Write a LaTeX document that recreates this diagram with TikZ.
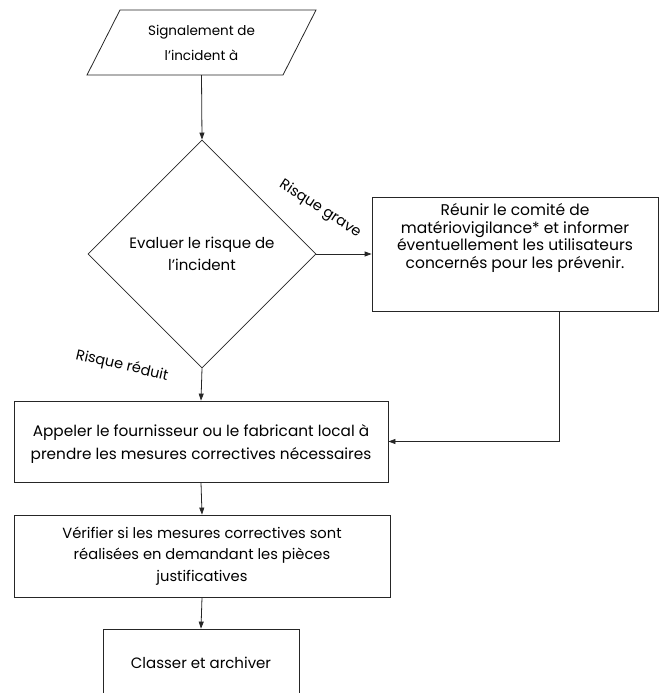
\documentclass[tikz,border=0pt]{standalone}
\usepackage{fontspec}
\setmainfont{Poppins}
\usetikzlibrary{shapes.geometric,arrows.meta,calc}
\tikzset{
  line/.style={draw=black!85, line width=0.8pt},
  arr/.style={line, -{Triangle[length=7pt,width=5pt]}},
  boxnode/.style={line, rectangle, inner sep=0pt, align=center},
  txt/.style={inner sep=0pt, align=center},
  lbl/.style={inner sep=0pt, font=\fontsize{14.5}{17}\selectfont}
}
\begin{document}
\begin{tikzpicture}[x=1pt,y=-1pt]
\useasboundingbox (0,0) rectangle (665,693);
\clip (0,0) rectangle (665,693);
% input parallelogram
\draw[line] (87,75) -- (120,10) -- (316,10) -- (283,75) -- cycle;
\node[txt, minimum width=196pt, minimum height=65pt,
      font=\fontsize{13.5}{25}\selectfont] (sig) at (201.5,42.5) {Signalement de\\l’incident à};
% decision
\node[line, diamond, aspect=1, minimum size=228pt, inner sep=0pt, align=center,
      font=\fontsize{15}{22}\selectfont] (dia) at (202,254) {Evaluer le risque de\\l’incident};
% right box
\node[boxnode, minimum width=286pt, minimum height=114pt] (rbox) at (515,254) {};
\node[txt, font=\fontsize{15.5}{17.5}\selectfont] (rtext) at (515,238)
  {Réunir le comité de\\matériovigilance* et informer\\éventuellement les utilisateurs\\concernés pour les prévenir.};
% box 1
\node[boxnode, minimum width=374pt, minimum height=81pt] (box1) at (201,441.5) {};
\node[txt, font=\fontsize{15.3}{23}\selectfont] (t1) at (201,444)
  {Appeler le fournisseur ou le fabricant local à\\prendre les mesures correctives nécessaires};
% box 2
\node[boxnode, minimum width=376pt, minimum height=82pt,
      font=\fontsize{14.7}{21.5}\selectfont] (box2) at (202,556)
  {Vérifier si les mesures correctives sont\\réalisées en demandant les pièces\\justificatives};
% box 3 (cut by the page edge)
\node[boxnode, minimum width=196pt, minimum height=68pt,
      font=\fontsize{15}{16}\selectfont] (box3) at (201,663) {Classer et archiver};
% labels
\node[lbl, rotate=-33] (lgrave) at (320,209) {Risque grave};
\node[lbl, rotate=-13] (lreduit) at (122,366) {Risque réduit};
% connectors
\draw[arr] (sig.south) -- (dia.north);
\draw[arr] (dia.east) -- (rbox.west);
\draw[arr] (dia.south) -- (box1.north);
\draw[arr] ($(rbox.south west)!0.654!(rbox.south east)$) |- (box1.east);
\draw[arr] (box1.south) -- (box2.north);
\draw[arr] (box2.south) -- (box3.north);
\end{tikzpicture}
\end{document}
